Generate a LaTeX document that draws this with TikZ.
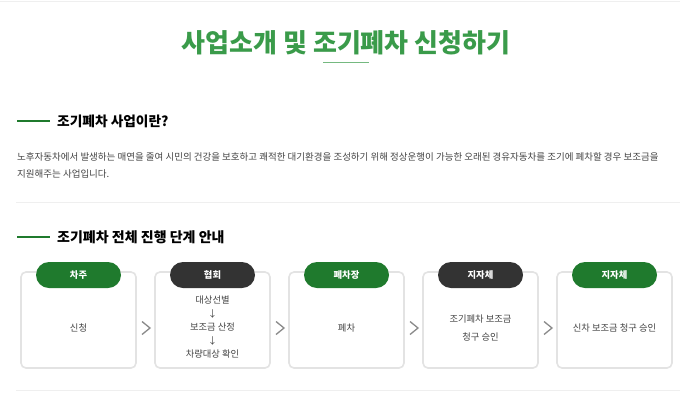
\documentclass[tikz,border=0pt]{standalone}
\usepackage{fontspec}
\setmainfont{Noto Sans CJK KR}
\newfontfamily\kr{Noto Sans CJK KR}
\definecolor{titlegreen}{HTML}{3A9B4A}
\definecolor{pillgreen}{HTML}{1F7A2D}
\definecolor{pilldark}{HTML}{333333}
\definecolor{boxgray}{HTML}{E3E3E3}
\definecolor{sepgray}{HTML}{EFEFEF}
\definecolor{bodytext}{HTML}{444444}
\definecolor{chev}{HTML}{8A8A8A}
\tikzset{
  x=1pt, y=-1pt,
  stepbox/.style={draw=boxgray, line width=1.6pt, rounded corners=5pt, fill=white, minimum width=115pt, minimum height=96pt, inner sep=0pt},
  pill/.style={rounded corners=13pt, minimum width=85pt, minimum height=26pt, inner sep=0pt, text=white, font=\kr\fontsize{9.3}{11}\selectfont\bfseries},
  greenpill/.style={pill, fill=pillgreen},
  darkpill/.style={pill, fill=pilldark},
  boxtext/.style={text=bodytext, font=\kr\fontsize{9.3}{14}\selectfont, align=center},
  heading/.style={anchor=west, inner sep=0pt, text=black},
  headline/.style={draw=pillgreen, line width=2pt},
  sep/.style={draw=sepgray, line width=1pt},
  chevron/.style={draw=chev, line width=1.3pt, line join=miter}
}
\begin{document}
\begin{tikzpicture}
\useasboundingbox[fill=white] (0,0) rectangle (680,400);
% top faint line
\draw[sepgray, line width=1pt] (0,1) -- (680,1);
% title
\node[font=\kr\fontsize{26}{30}\selectfont\bfseries, text=titlegreen, inner sep=0pt] (title) at (346,43) {사업소개 및 조기폐차 신청하기};
\coordinate (ul1) at (323,62);
\coordinate (ul2) at (369,62);
\draw[titlegreen!70, line width=1pt] (ul1) -- (ul2);
% section 1
\coordinate (h1a) at (17,121);
\coordinate (h1b) at (50,121);
\draw[headline] (h1a) -- (h1b);
\node[heading, font=\kr\fontsize{13.7}{16}\selectfont\bfseries] (h1) at (57,121) {조기폐차 사업이란?};
\node[anchor=west, inner sep=0pt, text=bodytext, font=\kr\fontsize{9.5}{11}\selectfont] (p1) at (17,157) {노후자동차에서 발생하는 매연을 줄여 시민의 건강을 보호하고 쾌적한 대기환경을 조성하기 위해 정상운행이 가능한 오래된 경유자동차를 조기에 폐차할 경우 보조금을};
\node[anchor=west, inner sep=0pt, text=bodytext, font=\kr\fontsize{9.5}{11}\selectfont] (p2) at (17,174) {지원해주는 사업입니다.};
\coordinate (s1a) at (16,202.5);
\coordinate (s1b) at (680,202.5);
\draw[sep] (s1a) -- (s1b);
% section 2
\coordinate (h2a) at (17,237);
\coordinate (h2b) at (50,237);
\draw[headline] (h2a) -- (h2b);
\node[heading, font=\kr\fontsize{14}{16}\selectfont\bfseries] (h2) at (57,237) {조기폐차 전체 진행 단계 안내};
% boxes
\node[stepbox] (b1) at (78.5,320) {};
\node[stepbox] (b2) at (212.5,320) {};
\node[stepbox] (b3) at (346.5,320) {};
\node[stepbox] (b4) at (480.5,320) {};
\node[stepbox] (b5) at (614.5,320) {};
% pills
\node[greenpill] (p1b) at (78.5,275) {차주};
\node[darkpill] (p2b) at (212.5,275) {협회};
\node[greenpill] (p3b) at (346.5,275) {폐차장};
\node[darkpill] (p4b) at (480.5,275) {지자체};
\node[greenpill] (p5b) at (614.5,275) {지자체};
% box texts
\node[boxtext] (t1) at (78.5,328) {신청};
\node[boxtext, font=\kr\fontsize{9.3}{13.5}\selectfont] (t2) at (212.5,327.5) {대상선별\\↓\\보조금 산정\\↓\\차량대상 확인};
\node[boxtext] (t3) at (346.5,328) {폐차};
\node[boxtext, font=\kr\fontsize{9.3}{18}\selectfont] (t4) at (480.5,328) {조기폐차 보조금\\청구 승인};
\node[boxtext] (t5) at (614.5,328) {신차 보조금 청구 승인};
% chevrons
\foreach \cx in {142,276,410,544}{
  \draw[chevron] (\cx,321.5) -- (\cx+8,328) -- (\cx,334.5);
}
% bottom separator
\coordinate (s2a) at (16,390);
\coordinate (s2b) at (680,390);
\draw[sep] (s2a) -- (s2b);
\end{tikzpicture}
\end{document}
